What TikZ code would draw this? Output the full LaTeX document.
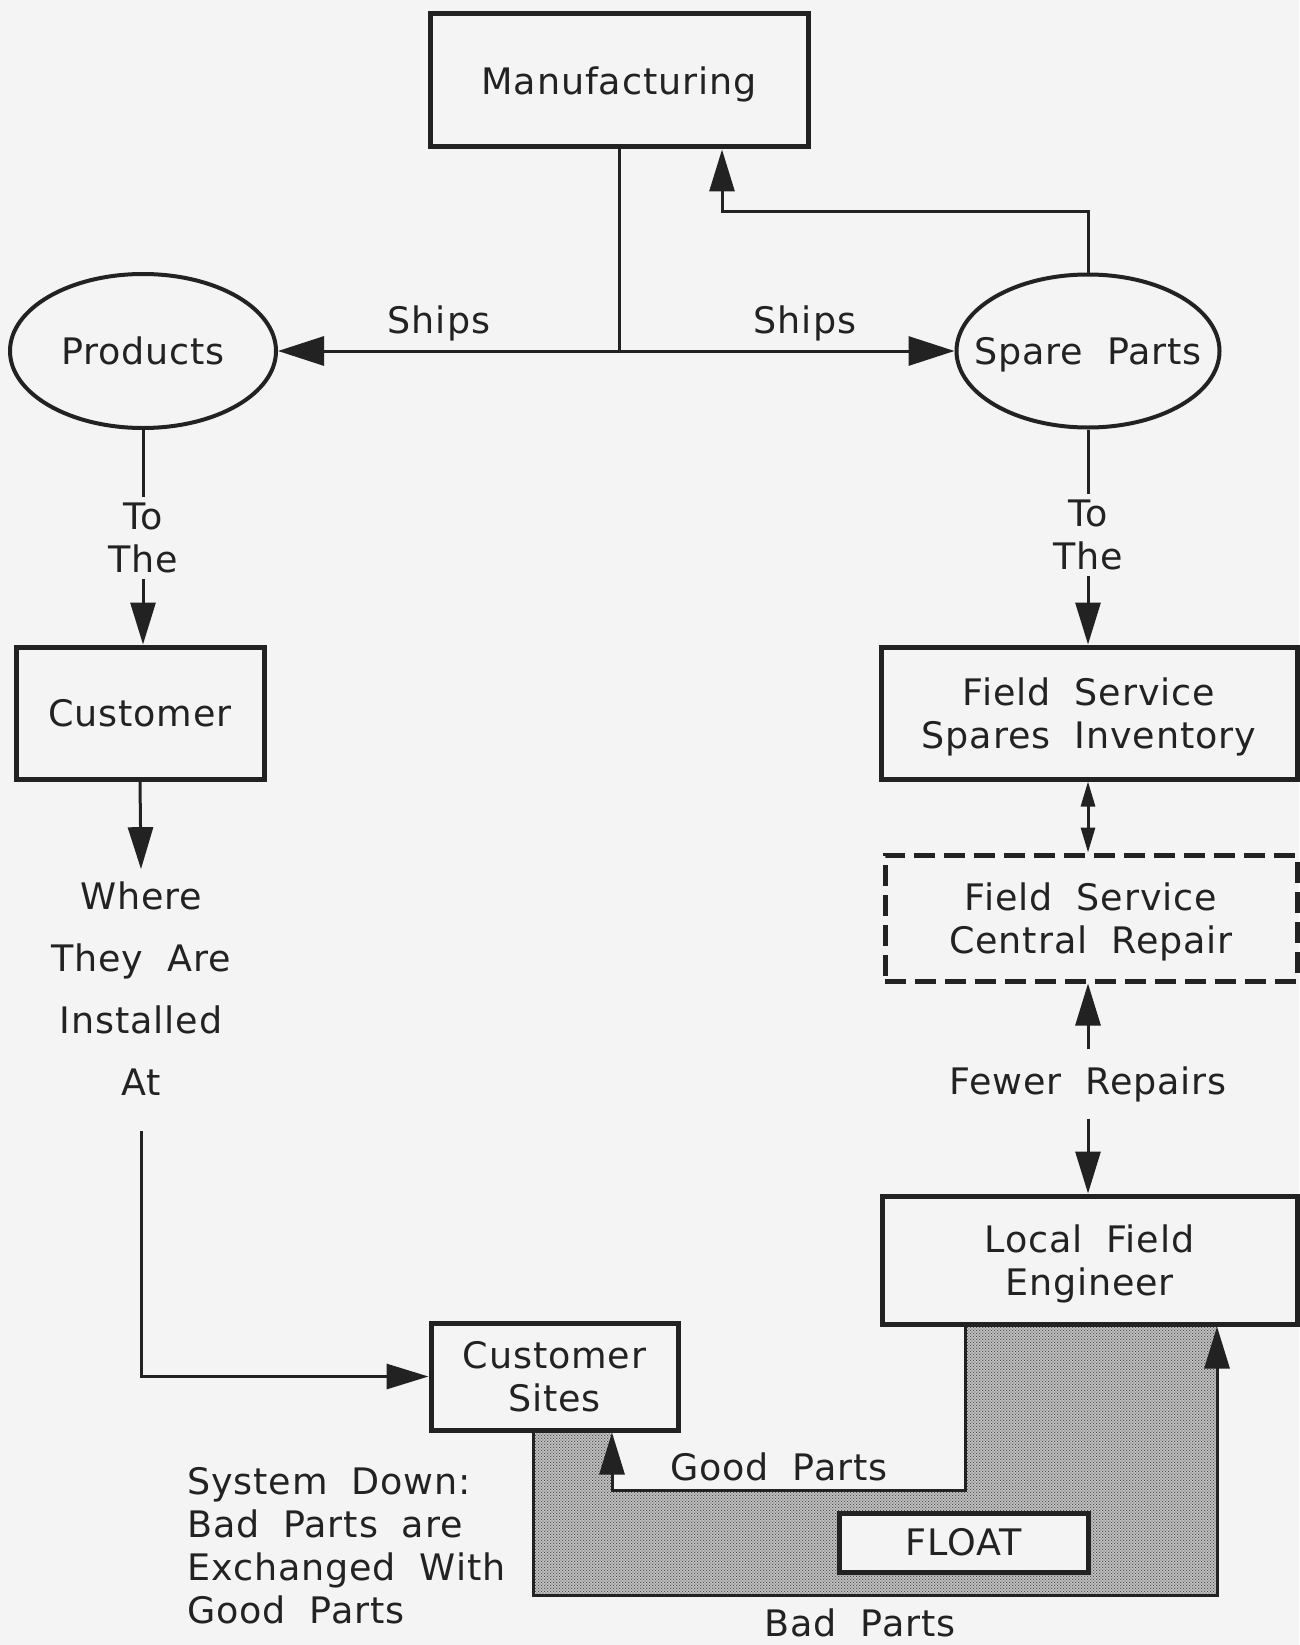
\documentclass[tikz,border=0pt]{standalone}
\usepackage{fontspec}
\setmainfont{DejaVu Sans}[WordSpace=1.9, LetterSpace=2.5]
\usetikzlibrary{arrows.meta,shapes.geometric,patterns}

\definecolor{paper}{RGB}{245,244,244}
\definecolor{ink}{RGB}{34,34,34}

% fine dot screen used for the float area
\pgfdeclarepatternformonly{fielddots}{\pgfqpoint{0pt}{0pt}}{\pgfqpoint{2.8pt}{2.8pt}}{\pgfqpoint{2.8pt}{2.8pt}}{%
  \pgfpathcircle{\pgfqpoint{0.7pt}{0.7pt}}{0.7pt}%
  \pgfpathcircle{\pgfqpoint{2.1pt}{2.1pt}}{0.7pt}%
  \pgfusepath{fill}}

\tikzset{
  txt/.style={font=\fontsize{36.5pt}{43pt}\selectfont, text=ink},
  box/.style={txt, draw=ink, line width=5pt, fill=paper, inner sep=0pt, align=center},
  oval/.style={txt, ellipse, draw=ink, line width=4pt, fill=paper, inner sep=0pt},
  lbl/.style={txt, inner sep=0pt, align=center},
  conn/.style={draw=ink, line width=3pt},
  arr/.style={conn, -{Triangle[length=42pt,width=25pt]}},
  shiparr/.style={conn, -{Triangle[length=46pt,width=29pt]}},
  dbl/.style={conn, {Triangle[length=25pt,width=14pt]}-{Triangle[length=25pt,width=14pt]}},
}

\begin{document}
\begin{tikzpicture}[x=1pt,y=-1pt]
\useasboundingbox (0,0) rectangle (1299,1645);
\fill[paper] (0,0) rectangle (1299,1645);

% screened float region between the good-parts and bad-parts loops
\fill[black!22] (533,1430) -- (533,1595) -- (1217,1595) -- (1217,1324) -- (965,1324)
  -- (965,1490) -- (612,1490) -- (612,1430) -- cycle;
\fill[pattern=fielddots, pattern color=ink!85] (533,1430) -- (533,1595) -- (1217,1595) -- (1217,1324) -- (965,1324)
  -- (965,1490) -- (612,1490) -- (612,1430) -- cycle;

% boxes and ovals
\node[box, text depth=-9pt, minimum width=378, minimum height=133] (mfg) at (619,80.5) {Manufacturing};
\node[oval, text depth=-6pt, minimum width=266, minimum height=154] (prod) at (143,351) {Products};
\node[oval, text depth=0pt, inner xsep=-32pt, minimum width=263, minimum height=153] (spare) at (1088,351) {Spare Parts};
\node[box, minimum width=248, minimum height=132] (cust) at (140,713) {Customer};
\node[box, text depth=-5pt, minimum width=416, minimum height=132] (inv) at (1089,713) {Field Service\\Spares Inventory};
\node[box, text depth=-3pt, dash pattern=on 21pt off 9pt, minimum width=412, minimum height=126] (rep) at (1091,918) {Field Service\\Central Repair};
\node[box, text depth=0pt, minimum width=415, minimum height=128] (lfe) at (1089.5,1260) {Local Field\\Engineer};
\node[box, minimum width=247, minimum height=107] (sites) at (554.5,1376.5) {Customer\\Sites};
\node[box, minimum width=249, minimum height=59] (float) at (963.5,1542.5) {FLOAT};

% labels
\node[lbl] (ships1) at (439,323) {Ships};
\node[lbl] (ships2) at (805,323) {Ships};
\node[lbl, outer sep=6pt] (to1) at (143,538) {To\\The};
\node[lbl, outer sep=6pt] (to2) at (1088,535) {To\\The};
\node[lbl, font=\fontsize{36.5pt}{62pt}\selectfont, outer sep=13pt] (where) at (141,989) {Where\\They Are\\Installed\\At};
\node[lbl, outer sep=17pt] (fewer) at (1088,1084) {Fewer Repairs};
\node[lbl] (good) at (779,1467) {Good Parts};
\node[lbl] (bad) at (860,1623) {Bad Parts};
\node[lbl, align=left, anchor=west] (sysdown) at (187,1546) {System Down:\\Bad Parts are\\Exchanged With\\Good Parts};

% shipping from manufacturing
\coordinate (hub) at (619,351);
\draw[conn] (mfg.south) -- (hub);
\draw[shiparr] (hub) -- (prod.east);
\draw[shiparr] (hub) -- (spare.west);
\coordinate (ret) at (722,212);
\draw[arr] (spare.north) |- (ret) -- (mfg.south -| ret);

% products to the customer
\draw[conn] (prod.south) -- (to1.north);
\draw[arr] (to1.south) -- (to1.south |- cust.north);
\draw[arr] (cust.south) -- (where.north);
\coordinate (wbot) at (141,1131);
\draw[arr] (wbot) |- (sites.west);

% spare parts chain
\draw[conn] (spare.south) -- (to2.north);
\draw[arr] (to2.south) -- (to2.south |- inv.north);
\draw[dbl] (inv.south -| to2) -- (rep.north -| to2);
\draw[arr] (fewer.north) -- (fewer.north |- rep.south);
\draw[arr] (fewer.south) -- (fewer.south |- lfe.north);

% exchange loop
\coordinate (g1) at (965,1490);
\coordinate (g2) at (612,1490);
\draw[arr] (lfe.south -| g1) -- (g1) -- (g2) -- (sites.south -| g2);
\coordinate (b1) at (533,1595);
\coordinate (b2) at (1217,1595);
\draw[arr] (sites.south -| b1) -- (b1) -- (b2) -- (lfe.south -| b2);
\end{tikzpicture}
\end{document}
